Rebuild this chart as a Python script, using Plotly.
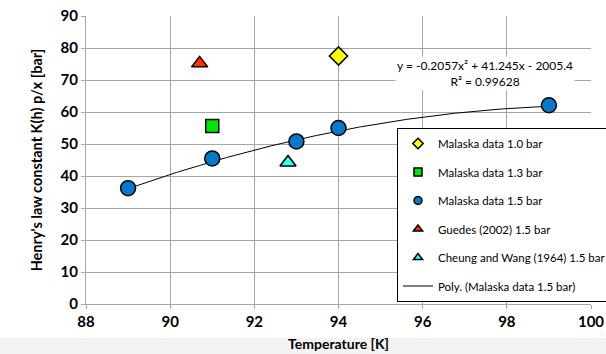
import numpy as np
import plotly.graph_objects as go

# Data
malaska_10_T = [94.0]
malaska_10_K = [77.5]
malaska_13_T = [91.0]
malaska_13_K = [55.6]
malaska_15_T = [89.0, 91.0, 93.0, 94.0, 99.0]
malaska_15_K = [36.2, 45.5, 50.8, 55.0, 62.1]
guedes_T = [90.7]
guedes_K = [75.2]
cheung_T = [92.8]
cheung_K = [44.2]
# Polynomial trendline coefficients (as printed on the chart): a*x^2 + b*x + c
poly_coef = [-0.2057, 41.245, -2005.4]
poly_range = [89.0, 99.0]

x_ticks = [88, 90, 92, 94, 96, 98, 100]
y_ticks = [0, 10, 20, 30, 40, 50, 60, 70, 80, 90]

FONT = "Lato"

fig = go.Figure()

xt = np.linspace(poly_range[0], poly_range[1], 200)
yt = np.polyval(poly_coef, xt)
fig.add_trace(go.Scatter(x=xt, y=yt, mode="lines", line=dict(color="black", width=1),
                         showlegend=False, hoverinfo="skip"))

series = [
    ("Malaska data 1.0 bar", malaska_10_T, malaska_10_K, "diamond", "#FFFF00", 14),
    ("Malaska data 1.3 bar", malaska_13_T, malaska_13_K, "square", "#00E600", 13),
    ("Malaska data 1.5 bar", malaska_15_T, malaska_15_K, "circle", "#0A78C8", 15),
    ("Guedes (2002) 1.5 bar", guedes_T, guedes_K, "triangle-up", "#FF3300", 14),
    ("Cheung and Wang (1964) 1.5 bar", cheung_T, cheung_K, "triangle-up", "#33FFFF", 14),
]
for name, xs, ys, sym, col, sz in series:
    fig.add_trace(go.Scatter(x=xs, y=ys, mode="markers", name=name, showlegend=False,
                             marker=dict(symbol=sym, color=col, size=sz,
                                         line=dict(color="black", width=1.5))))

# legend-only entries (smaller markers like the original)
for i, (name, xs, ys, sym, col, sz) in enumerate(series):
    fig.add_trace(go.Scatter(x=[None], y=[None], mode="markers", name=name,
                             legendgroup=f"g{i}",
                             marker=dict(symbol=sym, color=col, size=8,
                                         line=dict(color="black", width=1.5))))
fig.add_trace(go.Scatter(x=[None], y=[None], mode="lines", name="Poly. (Malaska data 1.5 bar)",
                         legendgroup="g5", line=dict(color="black", width=1)))

fig.add_annotation(x=0.79, y=0.80, xref="paper", yref="paper", showarrow=False,
                   xanchor="center", yanchor="middle",
                   text="y = -0.2057x² + 41.245x - 2005.4<br>R² = 0.99628",
                   font=dict(family=FONT, size=12, color="black"), bgcolor="white",
                   align="center")

axis_common = dict(showgrid=True, gridcolor="#A6A6A6", gridwidth=1, showline=True,
                   linecolor="#A6A6A6", linewidth=1, ticks="outside", ticklen=4,
                   tickcolor="#A6A6A6", zeroline=False,
                   tickfont=dict(family=FONT, size=15, color="black"))

fig.add_shape(type="rect", xref="paper", yref="paper", x0=-0.2, x1=1.05,
              y0=-(338 - 304) / 288, y1=-(354 - 304) / 288 - 0.01,
              fillcolor="#F3F3F3", line=dict(width=0), layer="below")

fig.update_layout(
    width=606, height=354,
    margin=dict(l=86, r=15, t=16, b=50, autoexpand=False),
    paper_bgcolor="white", plot_bgcolor="white",
    xaxis=dict(range=[88, 100], tickvals=x_ticks, ticktext=[f"<b>{v}</b>" for v in x_ticks],
               title=dict(text="<b>Temperature [K]</b>", font=dict(family=FONT, size=14, color="black"),
                          standoff=10), **axis_common),
    yaxis=dict(range=[0, 90], tickvals=y_ticks, ticktext=[f"<b>{v}</b>" for v in y_ticks],
               title=dict(text="<b>Henry's law constant K(h) p/x [bar]</b>",
                          font=dict(family=FONT, size=14.5, color="black"), standoff=14),
               **axis_common),
    legend=dict(x=(397 - 86) / 505, y=(304 - 128) / 288, xref="paper", yref="paper",
                xanchor="left", yanchor="top",
                bgcolor="white", bordercolor="black", borderwidth=1,
                font=dict(family=FONT, size=11.5, color="black"),
                tracegroupgap=9.5, itemwidth=30),
    showlegend=True,
)

fig.write_html("out.html", config={"displayModeBar": False},
               post_script="document.body.style.margin='0px';document.body.style.overflow='hidden';")
